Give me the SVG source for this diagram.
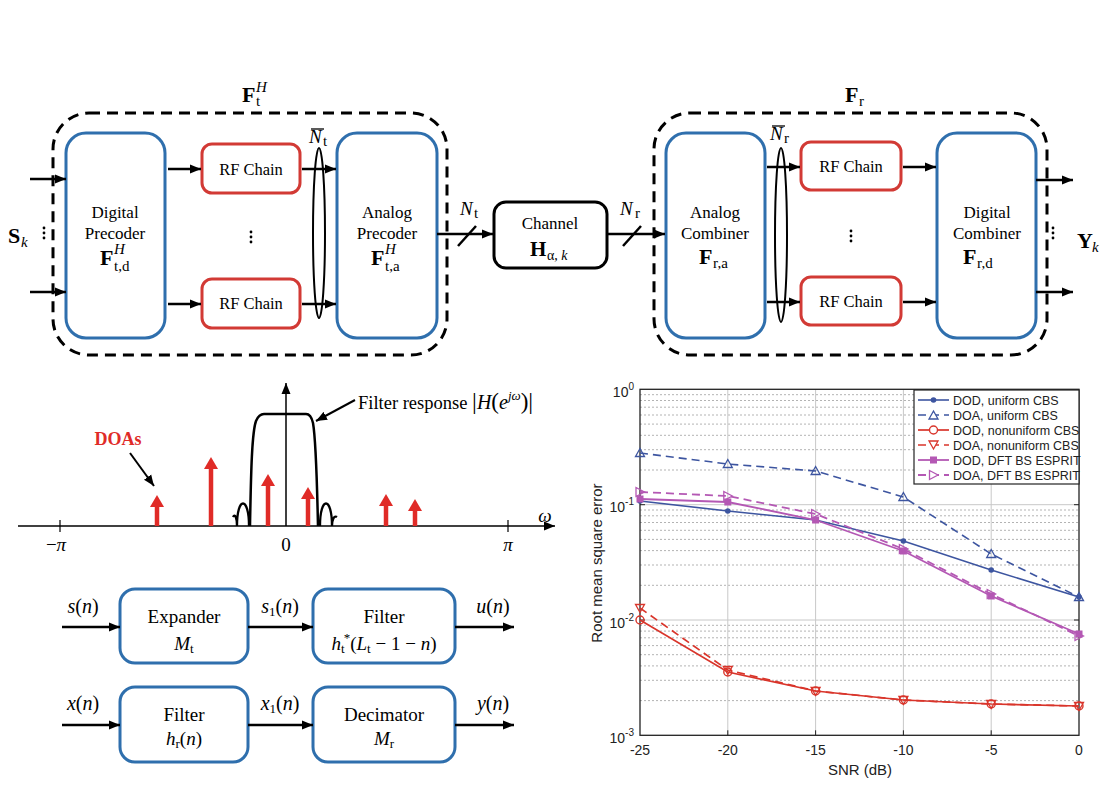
<svg xmlns="http://www.w3.org/2000/svg" width="1107" height="810" viewBox="0 0 1107 810" font-family="Liberation Serif, Times New Roman, serif">
<style>
.s{font-family:"Liberation Serif","Times New Roman",serif;fill:#000}
.sa{font-family:"Liberation Sans",Arial,sans-serif;fill:#222}
.dash{fill:none;stroke:#000;stroke-width:3;stroke-dasharray:11 7}
.blue{fill:#fff;stroke:#2f6fad;stroke-width:3}
.red{fill:#fff;stroke:#d23a35;stroke-width:3}
.blk{fill:#fff;stroke:#000;stroke-width:3}
.ar{stroke:#000;stroke-width:2.5;fill:none;marker-end:url(#ah)}
.ln{stroke:#000;stroke-width:2.5;fill:none}
.dot{fill:#000}
.major{stroke:#c8c8c8;stroke-width:1}
.minor{stroke:#aaa;stroke-width:0.9;stroke-dasharray:2 2}
.c1{stroke:#3d55a0;fill:none;stroke-width:1.6}
.c2{stroke:#d9352b;fill:none;stroke-width:1.7}
.c3{stroke:#b458b4;fill:none;stroke-width:1.8}
.dsh{stroke-dasharray:8 5}
.redar{stroke:#e02b27;stroke-width:4.5;fill:none;marker-end:url(#rh)}
</style>
<defs>
<marker id="ah" markerUnits="userSpaceOnUse" markerWidth="12" markerHeight="10" refX="11" refY="5" orient="auto"><path d="M0,0.5 L11,5 L0,9.5 z" fill="#000"/></marker>
<marker id="rh" markerUnits="userSpaceOnUse" markerWidth="14" markerHeight="14" refX="2" refY="7" orient="auto"><path d="M0,0 L12,7 L0,14 z" fill="#e02b27"/></marker>
<marker id="mc" markerUnits="userSpaceOnUse" markerWidth="8" markerHeight="8" refX="4" refY="4"><circle cx="4" cy="4" r="2.8" fill="#3d55a0"/></marker>
<marker id="mt" markerUnits="userSpaceOnUse" markerWidth="12" markerHeight="12" refX="6" refY="6"><path d="M6,1.5 L10.5,9.5 L1.5,9.5 z" fill="none" stroke="#3d55a0" stroke-width="1.3"/></marker>
<marker id="mo" markerUnits="userSpaceOnUse" markerWidth="12" markerHeight="12" refX="6" refY="6"><circle cx="6" cy="6" r="4" fill="none" stroke="#d9352b" stroke-width="1.4"/></marker>
<marker id="mv" markerUnits="userSpaceOnUse" markerWidth="12" markerHeight="12" refX="6" refY="6"><path d="M1.5,2.5 L10.5,2.5 L6,10.5 z" fill="none" stroke="#d9352b" stroke-width="1.3"/></marker>
<marker id="ms" markerUnits="userSpaceOnUse" markerWidth="10" markerHeight="10" refX="5" refY="5"><rect x="1.5" y="1.5" width="7" height="7" fill="#b458b4"/></marker>
<marker id="mr" markerUnits="userSpaceOnUse" markerWidth="12" markerHeight="12" refX="6" refY="6"><path d="M2,1.5 L10.5,6 L2,10.5 z" fill="none" stroke="#b458b4" stroke-width="1.3"/></marker>
</defs>
<rect width="1107" height="810" fill="#fff"/>

<!-- ===== Top system diagram ===== -->
<g id="tx-group">
<rect class="dash" x="53" y="113" width="394" height="242" rx="36"/>
<text class="s" x="242" y="102" font-size="22" font-weight="bold">F</text>
<text class="s" x="256" y="106" font-size="15">t</text>
<text class="s" x="256" y="92" font-size="15" font-style="italic">H</text>
</g>
<g id="rx-group">
<rect class="dash" x="654" y="113" width="393" height="242" rx="36"/>
<text class="s" x="845" y="102" font-size="22" font-weight="bold">F</text>
<text class="s" x="859" y="106" font-size="15">r</text>
</g>

<g id="digital-precoder">
<rect class="blue" x="66" y="133" width="99" height="205" rx="20"/>
<text class="s" x="115" y="218" font-size="17" text-anchor="middle">Digital</text>
<text class="s" x="115" y="239" font-size="17" text-anchor="middle">Precoder</text>
<text class="s" x="100" y="265" font-size="22" font-weight="bold">F</text>
<text class="s" x="114" y="271" font-size="15">t,d</text>
<text class="s" x="114" y="254" font-size="15" font-style="italic">H</text>
</g>
<g id="rf-tx-1">
<rect class="red" x="202" y="144" width="98" height="49" rx="10"/>
<text class="s" x="251" y="175" font-size="16.5" text-anchor="middle">RF Chain</text>
</g>
<g id="rf-tx-2">
<rect class="red" x="202" y="279" width="98" height="49" rx="10"/>
<text class="s" x="251" y="309" font-size="16.5" text-anchor="middle">RF Chain</text>
</g>
<g id="analog-precoder">
<rect class="blue" x="337" y="133" width="100" height="205" rx="20"/>
<text class="s" x="387" y="218" font-size="17" text-anchor="middle">Analog</text>
<text class="s" x="387" y="239" font-size="17" text-anchor="middle">Precoder</text>
<text class="s" x="371" y="265" font-size="22" font-weight="bold">F</text>
<text class="s" x="385" y="271" font-size="15">t,a</text>
<text class="s" x="385" y="254" font-size="15" font-style="italic">H</text>
</g>
<g id="channel">
<rect class="blk" x="494" y="202" width="113" height="66" rx="12"/>
<text class="s" x="550" y="229" font-size="17" text-anchor="middle">Channel</text>
<text class="s" x="530" y="256" font-size="21" font-weight="bold">H</text>
<text class="s" x="547" y="260" font-size="14">α, <tspan font-style="italic">k</tspan></text>
</g>
<g id="analog-combiner">
<rect class="blue" x="666" y="133" width="99" height="205" rx="20"/>
<text class="s" x="715" y="218" font-size="17" text-anchor="middle">Analog</text>
<text class="s" x="715" y="239" font-size="17" text-anchor="middle">Combiner</text>
<text class="s" x="699" y="264" font-size="22" font-weight="bold">F</text>
<text class="s" x="713" y="268" font-size="15">r,a</text>
</g>
<g id="rf-rx-1">
<rect class="red" x="801" y="142" width="100" height="48" rx="10"/>
<text class="s" x="851" y="172" font-size="16.5" text-anchor="middle">RF Chain</text>
</g>
<g id="rf-rx-2">
<rect class="red" x="801" y="277" width="100" height="48" rx="10"/>
<text class="s" x="851" y="307" font-size="16.5" text-anchor="middle">RF Chain</text>
</g>
<g id="digital-combiner">
<rect class="blue" x="937" y="133" width="99" height="205" rx="20"/>
<text class="s" x="987" y="218" font-size="17" text-anchor="middle">Digital</text>
<text class="s" x="987" y="239" font-size="17" text-anchor="middle">Combiner</text>
<text class="s" x="963" y="264" font-size="22" font-weight="bold">F</text>
<text class="s" x="977" y="268" font-size="15">r,d</text>
</g>
<g id="labels-top">
<text class="s" x="8" y="243" font-size="22" font-weight="bold">S</text>
<text class="s" x="21" y="247" font-size="15" font-style="italic">k</text>
<text class="s" x="1077" y="248" font-size="22" font-weight="bold">Y</text>
<text class="s" x="1092" y="252" font-size="15" font-style="italic">k</text>
<text class="s" x="309" y="143" font-size="19" font-style="italic">N</text>
<line x1="311" y1="129" x2="324" y2="129" stroke="#000" stroke-width="1.3"/>
<text class="s" x="323" y="146" font-size="15">t</text>
<text class="s" x="770" y="140" font-size="19" font-style="italic">N</text>
<line x1="772" y1="126" x2="785" y2="126" stroke="#000" stroke-width="1.3"/>
<text class="s" x="784" y="143" font-size="15">r</text>
<text class="s" x="460" y="215" font-size="19" font-style="italic">N</text>
<text class="s" x="474" y="218" font-size="15">t</text>
<text class="s" x="620" y="215" font-size="19" font-style="italic">N</text>
<text class="s" x="635" y="218" font-size="15">r</text>
</g>
<g id="connectors-top">
<line class="ar" x1="30" y1="179" x2="66" y2="179"/>
<line class="ar" x1="30" y1="292" x2="66" y2="292"/>
<line class="ar" x1="168" y1="169" x2="201" y2="169"/>
<line class="ar" x1="168" y1="304" x2="201" y2="304"/>
<line class="ar" x1="302" y1="169" x2="336" y2="169"/>
<line class="ar" x1="302" y1="304" x2="336" y2="304"/>
<line class="ar" x1="437" y1="234" x2="493" y2="234"/>
<line class="ar" x1="607" y1="234" x2="665" y2="234"/>
<line class="ln" x1="458" y1="246" x2="476" y2="226"/>
<line class="ln" x1="623" y1="246" x2="641" y2="226"/>
<line class="ar" x1="767" y1="167" x2="800" y2="167"/>
<line class="ar" x1="767" y1="302" x2="800" y2="302"/>
<line class="ar" x1="903" y1="167" x2="936" y2="167"/>
<line class="ar" x1="903" y1="302" x2="936" y2="302"/>
<line class="ar" x1="1036" y1="180" x2="1073" y2="180"/>
<line class="ar" x1="1036" y1="292" x2="1073" y2="292"/>
<ellipse cx="319" cy="233" rx="6" ry="85" fill="none" stroke="#000" stroke-width="2"/>
<ellipse cx="781" cy="235" rx="6" ry="87" fill="none" stroke="#000" stroke-width="2"/>
<circle class="dot" cx="44" cy="228" r="1.4"/><circle class="dot" cx="44" cy="233" r="1.4"/><circle class="dot" cx="44" cy="238" r="1.4"/>
<circle class="dot" cx="251" cy="232" r="1.4"/><circle class="dot" cx="251" cy="237" r="1.4"/><circle class="dot" cx="251" cy="242" r="1.4"/>
<circle class="dot" cx="851" cy="231" r="1.4"/><circle class="dot" cx="851" cy="236" r="1.4"/><circle class="dot" cx="851" cy="241" r="1.4"/>
<circle class="dot" cx="1053" cy="228" r="1.4"/><circle class="dot" cx="1053" cy="233" r="1.4"/><circle class="dot" cx="1053" cy="238" r="1.4"/>
</g>

<!-- ===== Filter response ===== -->
<g id="spectrum">
<line x1="18" y1="526" x2="555" y2="526" stroke="#000" stroke-width="1.5" marker-end="url(#ah)"/>
<line x1="286" y1="526" x2="286" y2="383" stroke="#000" stroke-width="1.5" marker-end="url(#ah)"/>
<line x1="60" y1="520" x2="60" y2="532" stroke="#000" stroke-width="1.2"/>
<line x1="508" y1="520" x2="508" y2="532" stroke="#000" stroke-width="1.2"/>
<text class="s" x="56" y="551" font-size="19" text-anchor="middle">−<tspan font-style="italic">π</tspan></text>
<text class="s" x="286" y="551" font-size="19" text-anchor="middle">0</text>
<text class="s" x="508" y="551" font-size="19" text-anchor="middle" font-style="italic">π</text>
<text class="s" x="545" y="522" font-size="19" text-anchor="middle" font-style="italic">ω</text>
<path d="M250,526 C251,470 252,432 256,421 Q259,414 264,414 L306,414 Q311,414 313,423 C316,440 317,480 318,526" fill="none" stroke="#000" stroke-width="2.5"/>
<path d="M233,517 C235,513 237,518 237,526 M237,526 C237,496 249,496 249,526" fill="none" stroke="#000" stroke-width="2.3"/>
<path d="M320,526 C320,496 332,496 332,526 M332,526 C332,520 334,515 337,517" fill="none" stroke="#000" stroke-width="2.3"/>
<line class="redar" x1="157" y1="526" x2="157" y2="505"/>
<line class="redar" x1="211" y1="526" x2="211" y2="467"/>
<line class="redar" x1="268" y1="526" x2="268" y2="484"/>
<line class="redar" x1="308" y1="526" x2="308" y2="497"/>
<line class="redar" x1="386" y1="526" x2="386" y2="504"/>
<line class="redar" x1="415" y1="526" x2="415" y2="509"/>
<text class="s" x="118" y="445" font-size="18" font-weight="bold" text-anchor="middle" style="fill:#e02b27">DOAs</text>
<line x1="130" y1="453" x2="154" y2="486" stroke="#000" stroke-width="2" marker-end="url(#ah)"/>
<text class="s" x="358" y="409" font-size="18.5">Filter response <tspan font-size="24">|</tspan><tspan font-style="italic" font-size="20">H</tspan><tspan font-size="23">(</tspan><tspan font-style="italic" font-size="20">e</tspan><tspan font-size="13" dy="-9" font-style="italic">jω</tspan><tspan font-size="23" dy="9">)</tspan><tspan font-size="24">|</tspan></text>
<line x1="355" y1="400" x2="316" y2="421" stroke="#000" stroke-width="2" marker-end="url(#ah)"/>
</g>

<!-- ===== Bottom block diagrams ===== -->
<g id="expander">
<rect class="blue" x="120" y="589" width="128" height="74" rx="15"/>
<text class="s" x="184" y="623" font-size="19" text-anchor="middle">Expander</text>
<text class="s" x="184" y="650" font-size="19" text-anchor="middle"><tspan font-style="italic">M</tspan><tspan font-size="13" dy="3">t</tspan></text>
</g>
<g id="filter-tx">
<rect class="blue" x="313" y="589" width="142" height="74" rx="15"/>
<text class="s" x="384" y="623" font-size="19" text-anchor="middle">Filter</text>
<text class="s" x="384" y="650" font-size="19" text-anchor="middle"><tspan font-style="italic">h</tspan><tspan font-size="13" dy="3">t</tspan><tspan font-size="13" dx="-1" dy="-11">*</tspan><tspan dy="8">(</tspan><tspan font-style="italic">L</tspan><tspan font-size="13" dy="3">t</tspan><tspan dy="-3"> − 1 − </tspan><tspan font-style="italic">n</tspan>)</text>
</g>
<g id="filter-rx">
<rect class="blue" x="120" y="687" width="128" height="75" rx="15"/>
<text class="s" x="184" y="721" font-size="19" text-anchor="middle">Filter</text>
<text class="s" x="184" y="745" font-size="19" text-anchor="middle"><tspan font-style="italic">h</tspan><tspan font-size="13" dy="3">r</tspan><tspan dy="-3">(</tspan><tspan font-style="italic">n</tspan>)</text>
</g>
<g id="decimator">
<rect class="blue" x="313" y="687" width="142" height="75" rx="15"/>
<text class="s" x="384" y="721" font-size="19" text-anchor="middle">Decimator</text>
<text class="s" x="384" y="745" font-size="19" text-anchor="middle"><tspan font-style="italic">M</tspan><tspan font-size="13" dy="3">r</tspan></text>
</g>
<g id="connectors-bottom">
<line class="ar" x1="62" y1="627" x2="120" y2="627"/>
<line class="ar" x1="248" y1="627" x2="313" y2="627"/>
<line class="ar" x1="455" y1="627" x2="514" y2="627"/>
<line class="ar" x1="62" y1="725" x2="120" y2="725"/>
<line class="ar" x1="248" y1="725" x2="313" y2="725"/>
<line class="ar" x1="455" y1="725" x2="514" y2="725"/>
<text class="s" x="83" y="613" font-size="20" text-anchor="middle"><tspan font-style="italic">s</tspan>(<tspan font-style="italic">n</tspan>)</text>
<text class="s" x="280" y="613" font-size="20" text-anchor="middle"><tspan font-style="italic">s</tspan><tspan font-size="13" dy="3">1</tspan><tspan dy="-3">(</tspan><tspan font-style="italic">n</tspan>)</text>
<text class="s" x="493" y="613" font-size="20" text-anchor="middle"><tspan font-style="italic">u</tspan>(<tspan font-style="italic">n</tspan>)</text>
<text class="s" x="83" y="710" font-size="20" text-anchor="middle"><tspan font-style="italic">x</tspan>(<tspan font-style="italic">n</tspan>)</text>
<text class="s" x="280" y="710" font-size="20" text-anchor="middle"><tspan font-style="italic">x</tspan><tspan font-size="13" dy="3">1</tspan><tspan dy="-3">(</tspan><tspan font-style="italic">n</tspan>)</text>
<text class="s" x="493" y="710" font-size="20" text-anchor="middle"><tspan font-style="italic">y</tspan>(<tspan font-style="italic">n</tspan>)</text>
</g>

<!-- ===== RMSE plot ===== -->
<g id="plot">
<rect x="640" y="389.3" width="439" height="346" fill="#fff"/>
<g class="minor">
<line x1="640" x2="1079" y1="470.0" y2="470.0"/><line x1="640" x2="1079" y1="449.7" y2="449.7"/><line x1="640" x2="1079" y1="435.3" y2="435.3"/><line x1="640" x2="1079" y1="424.1" y2="424.1"/><line x1="640" x2="1079" y1="415.0" y2="415.0"/><line x1="640" x2="1079" y1="407.2" y2="407.2"/><line x1="640" x2="1079" y1="400.5" y2="400.5"/><line x1="640" x2="1079" y1="394.7" y2="394.7"/>
<line x1="640" x2="1079" y1="585.3" y2="585.3"/><line x1="640" x2="1079" y1="565.0" y2="565.0"/><line x1="640" x2="1079" y1="550.6" y2="550.6"/><line x1="640" x2="1079" y1="539.4" y2="539.4"/><line x1="640" x2="1079" y1="530.3" y2="530.3"/><line x1="640" x2="1079" y1="522.5" y2="522.5"/><line x1="640" x2="1079" y1="515.8" y2="515.8"/><line x1="640" x2="1079" y1="510.0" y2="510.0"/>
<line x1="640" x2="1079" y1="700.6" y2="700.6"/><line x1="640" x2="1079" y1="680.3" y2="680.3"/><line x1="640" x2="1079" y1="665.9" y2="665.9"/><line x1="640" x2="1079" y1="654.7" y2="654.7"/><line x1="640" x2="1079" y1="645.6" y2="645.6"/><line x1="640" x2="1079" y1="637.8" y2="637.8"/><line x1="640" x2="1079" y1="631.1" y2="631.1"/><line x1="640" x2="1079" y1="625.3" y2="625.3"/>
</g>
<g class="major">
<line x1="640" x2="1079" y1="504.7" y2="504.7"/><line x1="640" x2="1079" y1="620" y2="620"/>
<line x1="727.8" x2="727.8" y1="389.3" y2="735.3"/><line x1="815.6" x2="815.6" y1="389.3" y2="735.3"/><line x1="903.4" x2="903.4" y1="389.3" y2="735.3"/><line x1="991.2" x2="991.2" y1="389.3" y2="735.3"/>
</g>
<rect x="640" y="389.3" width="439" height="346" fill="none" stroke="#222" stroke-width="1.3"/>
<g stroke="#222" stroke-width="1">
<line x1="640" x2="645" y1="504.7" y2="504.7"/><line x1="640" x2="645" y1="620" y2="620"/>
<line x1="1074" x2="1079" y1="504.7" y2="504.7"/><line x1="1074" x2="1079" y1="620" y2="620"/>
<line x1="727.8" x2="727.8" y1="735.3" y2="730.3"/><line x1="815.6" x2="815.6" y1="735.3" y2="730.3"/><line x1="903.4" x2="903.4" y1="735.3" y2="730.3"/><line x1="991.2" x2="991.2" y1="735.3" y2="730.3"/>
</g>
<polyline class="c1" points="640,501 727.8,511 815.6,520 903.4,541 991.2,570 1079,597" marker-start="url(#mc)" marker-mid="url(#mc)" marker-end="url(#mc)"/>
<polyline class="c1 dsh" points="640,453 727.8,464 815.6,471 903.4,497 991.2,554 1079,597" marker-start="url(#mt)" marker-mid="url(#mt)" marker-end="url(#mt)"/>
<polyline class="c3" points="640,499 727.8,502 815.6,520 903.4,551 991.2,596 1079,634" marker-start="url(#ms)" marker-mid="url(#ms)" marker-end="url(#ms)"/>
<polyline class="c3 dsh" points="640,492 727.8,496 815.6,514 903.4,549 991.2,594 1079,636" marker-start="url(#mr)" marker-mid="url(#mr)" marker-end="url(#mr)"/>
<polyline class="c2" points="640,620 727.8,672 815.6,691 903.4,700 991.2,704 1079,706" marker-start="url(#mo)" marker-mid="url(#mo)" marker-end="url(#mo)"/>
<polyline class="c2 dsh" points="640,608 727.8,670 815.6,691 903.4,700 991.2,704 1079,706" marker-start="url(#mv)" marker-mid="url(#mv)" marker-end="url(#mv)"/>
<g class="sa" font-size="14">
<text x="634" y="397" text-anchor="end">10<tspan font-size="10" dy="-7">0</tspan></text>
<text x="634" y="512" text-anchor="end">10<tspan font-size="10" dy="-7">-1</tspan></text>
<text x="634" y="628" text-anchor="end">10<tspan font-size="10" dy="-7">-2</tspan></text>
<text x="634" y="743" text-anchor="end">10<tspan font-size="10" dy="-7">-3</tspan></text>
<text x="640" y="755" text-anchor="middle">-25</text>
<text x="727.8" y="755" text-anchor="middle">-20</text>
<text x="815.6" y="755" text-anchor="middle">-15</text>
<text x="903.4" y="755" text-anchor="middle">-10</text>
<text x="991.2" y="755" text-anchor="middle">-5</text>
<text x="1079" y="755" text-anchor="middle">0</text>
<text x="860" y="775" text-anchor="middle" font-size="15">SNR (dB)</text>
<text x="0" y="0" text-anchor="middle" font-size="15" transform="translate(602,563) rotate(-90)">Root mean square error</text>
</g>
<g id="legend">
<rect x="914" y="390" width="165" height="94" fill="#fff" stroke="#222" stroke-width="1.2"/>
<line class="c1" x1="918" x2="949" y1="400" y2="400"/>
<line class="c1 dsh" x1="918" x2="949" y1="415" y2="415"/>
<line class="c2" x1="918" x2="949" y1="430" y2="430"/>
<line class="c2 dsh" x1="918" x2="949" y1="445" y2="445"/>
<line class="c3" x1="918" x2="949" y1="460" y2="460"/>
<line class="c3 dsh" x1="918" x2="949" y1="475" y2="475"/>
<circle cx="933.5" cy="400" r="2.8" fill="#3d55a0"/>
<path d="M933.5,411 L938,419 L929,419 z" fill="#fff" stroke="#3d55a0" stroke-width="1.3"/>
<circle cx="933.5" cy="430" r="4" fill="#fff" stroke="#d9352b" stroke-width="1.4"/>
<path d="M929,441 L938,441 L933.5,449 z" fill="#fff" stroke="#d9352b" stroke-width="1.3"/>
<rect x="930" y="456.5" width="7" height="7" fill="#b458b4"/>
<path d="M929.5,470.5 L938,475 L929.5,479.5 z" fill="#fff" stroke="#b458b4" stroke-width="1.3"/>
<g class="sa" font-size="12.5" fill="#111">
<text x="953" y="404.5">DOD, uniform CBS</text>
<text x="953" y="419.5">DOA, uniform CBS</text>
<text x="953" y="434.5">DOD, nonuniform CBS</text>
<text x="953" y="449.5">DOA, nonuniform CBS</text>
<text x="953" y="464.5">DOD, DFT BS ESPRIT</text>
<text x="953" y="479.5">DOA, DFT BS ESPRIT</text>
</g>
</g>
</g>
</svg>
